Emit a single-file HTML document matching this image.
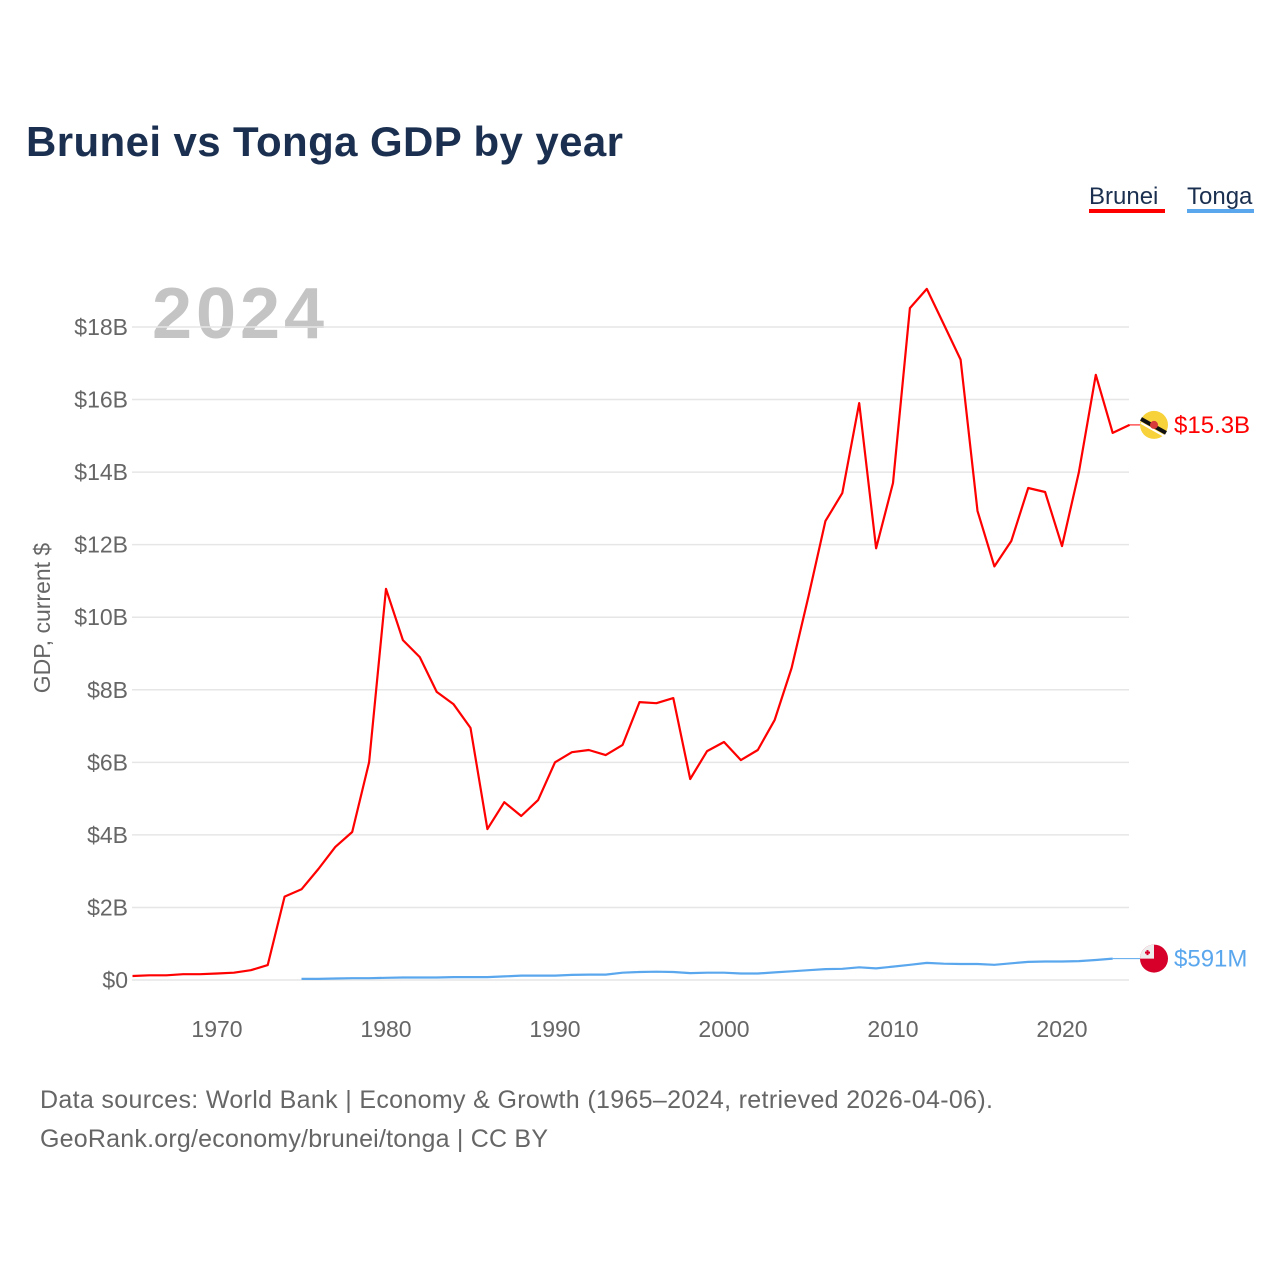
<!DOCTYPE html>
<html><head><meta charset="utf-8">
<style>
body{margin:0;background:#fff;font-family:"Liberation Sans",sans-serif;}
svg{display:block}
</style></head>
<body>
<svg id="chart" width="1280" height="1280" viewBox="0 0 1280 1280">
<text x="26" y="156" font-size="42" font-weight="bold" fill="#1b3050" textLength="597">Brunei vs Tonga GDP by year</text>
<g>
<text x="1089" y="204" font-size="24" fill="#1b3050">Brunei</text>
<rect x="1089" y="209" width="76" height="4" fill="#ff0000"/>
<text x="1187" y="204" font-size="24" fill="#1b3050">Tonga</text>
<rect x="1187" y="209" width="67" height="4" fill="#5aa7ee"/>
</g>
<text x="152" y="338" font-size="72" font-weight="bold" fill="#c4c4c4" textLength="172">2024</text>
<text transform="translate(50,618) rotate(-90)" text-anchor="middle" font-size="23" fill="#666">GDP, current $</text>
<g id="grid"></g><g id="yticks"></g><g id="xticks"></g><g id="series"></g>
<text x="40" y="1108" font-size="25" fill="#666" textLength="953">Data sources: World Bank | Economy &amp; Growth (1965–2024, retrieved 2026-04-06).</text>
<text x="40" y="1147" font-size="25" fill="#666" textLength="508">GeoRank.org/economy/brunei/tonga | CC BY</text>
</svg>
<script>
const bruneiYears=[1965,1966,1967,1968,1969,1970,1971,1972,1973,1974,1975,1976,1977,1978,1979,1980,1981,1982,1983,1984,1985,1986,1987,1988,1989,1990,1991,1992,1993,1994,1995,1996,1997,1998,1999,2000,2001,2002,2003,2004,2005,2006,2007,2008,2009,2010,2011,2012,2013,2014,2015,2016,2017,2018,2019,2020,2021,2022,2023,2024];
const bruneiGDP=[0.11,0.13,0.13,0.16,0.16,0.18,0.2,0.27,0.41,2.3,2.5,3.06,3.67,4.08,6.0,10.78,9.37,8.9,7.94,7.6,6.95,4.16,4.9,4.52,4.96,6.0,6.28,6.34,6.2,6.48,7.66,7.63,7.77,5.54,6.31,6.56,6.06,6.34,7.17,8.6,10.58,12.65,13.42,15.9,11.9,13.7,18.52,19.05,18.08,17.1,12.93,11.4,12.1,13.56,13.45,11.96,14.0,16.68,15.08,15.3];
const tongaYears=[1975,1976,1977,1978,1979,1980,1981,1982,1983,1984,1985,1986,1987,1988,1989,1990,1991,1992,1993,1994,1995,1996,1997,1998,1999,2000,2001,2002,2003,2004,2005,2006,2007,2008,2009,2010,2011,2012,2013,2014,2015,2016,2017,2018,2019,2020,2021,2022,2023];
const tongaGDP=[0.03,0.03,0.04,0.05,0.05,0.06,0.07,0.07,0.07,0.08,0.08,0.08,0.1,0.12,0.12,0.12,0.14,0.15,0.15,0.2,0.22,0.23,0.22,0.19,0.2,0.2,0.18,0.18,0.21,0.24,0.27,0.3,0.31,0.35,0.32,0.37,0.42,0.47,0.45,0.44,0.44,0.42,0.46,0.5,0.51,0.51,0.52,0.55,0.59];
const yTicks=[0,2,4,6,8,10,12,14,16,18];
const yTickLabels=["$0","$2B","$4B","$6B","$8B","$10B","$12B","$14B","$16B","$18B"];
const xTicks=[1970,1980,1990,2000,2010,2020];
const ns="http://www.w3.org/2000/svg";
const X=y=>132.5+(y-1965)*16.9;
const Y=v=>980-v*36.28;
function mk(tag,attrs,parent){const e=document.createElementNS(ns,tag);for(const k in attrs)e.setAttribute(k,attrs[k]);parent.appendChild(e);return e;}
const grid=document.getElementById('grid'),yt=document.getElementById('yticks'),xt=document.getElementById('xticks'),ser=document.getElementById('series');
yTicks.forEach((v,i)=>{
 const l=mk('line',{x1:132,x2:1129,y1:Y(v),y2:Y(v),stroke:'#e6e6e6','stroke-width':1.5},grid);
 
 
 const t=mk('text',{x:128,y:Y(v)+8,'text-anchor':'end','font-size':23,fill:'#666'},yt);
 t.textContent=yTickLabels[i];
 
 
});
xTicks.forEach(v=>{
 const t=mk('text',{x:X(v),y:1037,'text-anchor':'middle','font-size':23,fill:'#666'},xt);
 t.textContent=v;
 
 
});
function path(xs,vs){return xs.map((y,i)=>(i?'L':'M')+X(y).toFixed(1)+','+Y(vs[i]).toFixed(1)).join('');}
const bl=mk('path',{d:path(bruneiYears,bruneiGDP),fill:'none',stroke:'#ff0000','stroke-width':2.2,'stroke-linejoin':'round'},ser);


const tl=mk('path',{d:path(tongaYears,tongaGDP),fill:'none',stroke:'#5aa7ee','stroke-width':2.2,'stroke-linejoin':'round'},ser);


const bLast=bruneiGDP[bruneiGDP.length-1],tLast=tongaGDP[tongaGDP.length-1];
const bx=X(bruneiYears[bruneiYears.length-1]),tx=X(tongaYears[tongaYears.length-1]);
mk('line',{x1:bx,y1:Y(bLast),x2:1142,y2:Y(bLast),stroke:'#ff0000','stroke-width':1},ser);
mk('line',{x1:tx,y1:Y(tLast),x2:1142,y2:Y(tLast),stroke:'#5aa7ee','stroke-width':1},ser);
const bf=mk('g',{},ser);


const by=Y(bLast);
mk('circle',{cx:1154,cy:by,r:14,fill:'#f7d23a'},bf);
mk('line',{x1:1141,y1:by-6,x2:1166,y2:by+8,stroke:'#111','stroke-width':4},bf);
mk('line',{x1:1141,y1:by-2,x2:1164,y2:by+11,stroke:'#fff','stroke-width':2},bf);
mk('circle',{cx:1154,cy:by,r:4,fill:'#d63a3a'},bf);
const tf=mk('g',{},ser);


const ty=Y(tLast);
mk('circle',{cx:1154,cy:ty,r:14,fill:'#d6002a'},tf);
mk('path',{d:`M1154,${ty} L1154,${ty-14} A14,14 0 0 0 1140,${ty} Z`,fill:'#eee'},tf);
mk('rect',{x:1145,y:ty-7,width:5,height:2,fill:'#d6002a'},tf);
mk('rect',{x:1146.5,y:ty-8.5,width:2,height:5,fill:'#d6002a'},tf);
const bt=mk('text',{x:1174,y:by+8,'font-size':24,fill:'#ff0000'},ser);
bt.textContent='$'+bLast.toFixed(1)+'B';


const tt=mk('text',{x:1174,y:ty+8,'font-size':24,fill:'#5aa7ee'},ser);
tt.textContent='$591M';


</script>
</body></html>
